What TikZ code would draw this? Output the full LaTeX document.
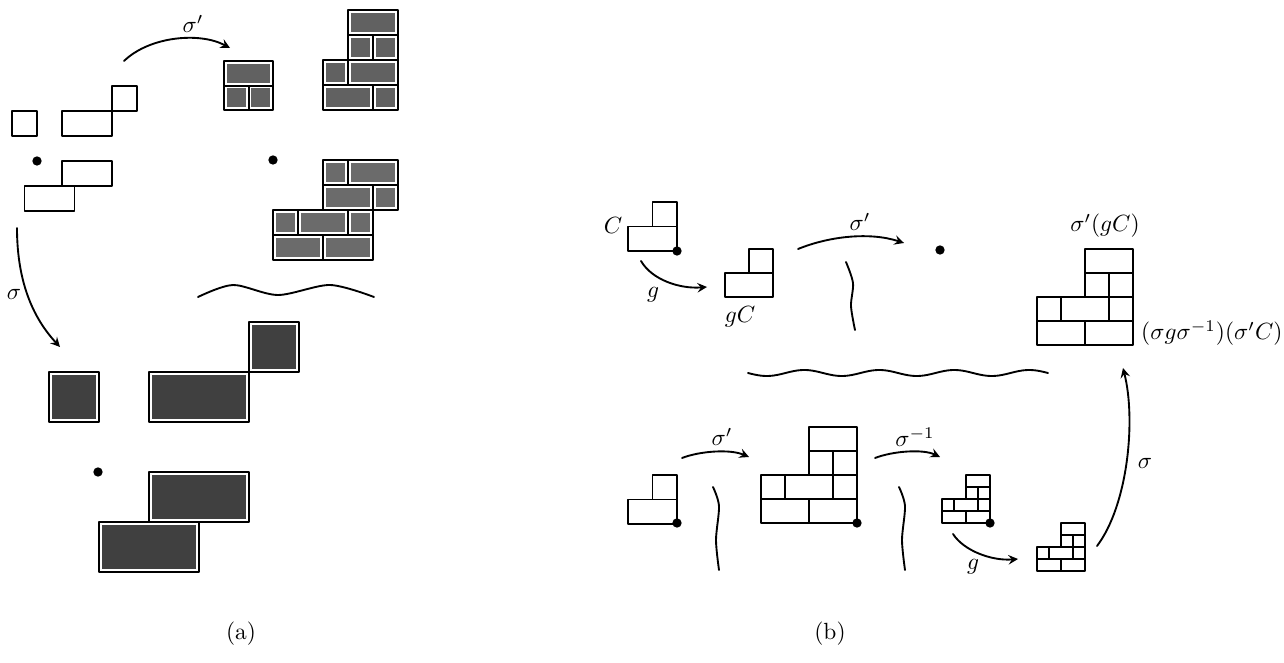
\documentclass[tikz,border=0pt]{standalone}
\usetikzlibrary{arrows}

% cells: fill, white gap, black outline
\newcommand{\tiles}[2]{%
  \foreach \a/\b/\c/\d in #2 \fill[#1] (\a,\b) rectangle (\c,\d);
  \foreach \a/\b/\c/\d in #2 \draw[white, line width=2.4pt] (\a,\b) rectangle (\c,\d);
  \foreach \a/\b/\c/\d in #2 \draw[line width=0.8pt] (\a,\b) rectangle (\c,\d);
}
\def\Ctiles{1/0/2/1, 0/1/2/2}
\def\Ttiles{2/0/4/1, 2/1/3/2, 3/1/4/2, 0/2/1/3, 1/2/3/3, 3/2/4/3, 0/3/2/4, 2/3/4/4}

\begin{document}
\begin{tikzpicture}[x=0.015cm, y=-0.015cm, line join=round, line cap=round, >=stealth,
    dot/.style={circle, fill, inner sep=0pt, minimum size=1.4mm},
    map/.style={->, line width=0.8pt},
    wave/.style={line width=0.8pt}]
  \useasboundingbox (0,0) rectangle (1284,663);

  % ---------- (a)
  \begin{scope}[shift={(12,86)}, scale=25]
    \tiles{white}{{0/1/1/2, 2/1/4/2, 4/0/5/1, 2/3/4/4, 0.5/4/2.5/5}}
  \end{scope}
  \node[dot] (adot1) at (37,161) {};

  \begin{scope}[shift={(224,61)}, scale=24.6]
    \tiles{black!62}{{0/0/2/1, 0/1/1/2, 1/1/2/2}}
  \end{scope}
  \begin{scope}[shift={(323,10)}, scale=25]
    \tiles{black!62}{{1/0/3/1, 1/1/2/2, 2/1/3/2, 0/2/1/3, 1/2/3/3, 0/3/2/4, 2/3/3/4}}
  \end{scope}
  \begin{scope}[shift={(273,160)}, scale=25]
    \tiles{black!58}{{2/0/3/1, 3/0/5/1, 2/1/4/2, 4/1/5/2, 0/2/1/3, 1/2/3/3, 3/2/4/3, 0/3/2/4, 2/3/4/4}}
  \end{scope}
  \node[dot] (adot2) at (273,160) {};

  \draw[wave] plot[smooth] coordinates {(198,297) (233,285) (278,295) (330,285) (374,297)};

  \begin{scope}[shift={(49,322)}, scale=50]
    \tiles{black!75}{{0/1/1/2, 2/1/4/2, 4/0/5/1, 2/3/4/4, 1/4/3/5}}
  \end{scope}
  \node[dot] (adot3) at (98,472) {};

  \coordinate (sa1) at (124,61);
  \coordinate (sa2) at (230,48);
  \draw[map] (sa1) .. controls (150,36) and (200,32) .. (sa2);
  \node (lsa) at (193,24) {$\sigma'$};

  \coordinate (sb1) at (17,228);
  \coordinate (sb2) at (60,347);
  \draw[map] (sb1) .. controls (17,285) and (35,320) .. (sb2);
  \node (lsb) at (14,294) {$\sigma$};

  \node (capa) at (241,634) {(a)};

  % ---------- (b)
  \begin{scope}[shift={(628,202)}, scale=24.5]
    \tiles{white}{\Ctiles}
  \end{scope}
  \node[dot] (bdot1) at (677,251) {};
  \node (lC) at (613,225) {$C$};

  \begin{scope}[shift={(725,249)}, scale=24.2]
    \tiles{white}{\Ctiles}
  \end{scope}
  \node (lgC) at (740,317) {$gC$};

  \coordinate (g1a) at (641,261);
  \coordinate (g1b) at (707,287);
  \draw[map] (g1a) .. controls (652,280) and (680,289) .. (g1b);
  \node (lg1) at (653,295) {$g$};

  \coordinate (s1a) at (798,249);
  \coordinate (s1b) at (904,243);
  \draw[map] (s1a) .. controls (830,236) and (870,232) .. (s1b);
  \node (ls1) at (860,222) {$\sigma'$};
  \node[dot] (bdot2) at (940,250) {};

  \draw[wave] plot[smooth] coordinates {(846,262) (853,283) (851,306) (855,330)};

  \begin{scope}[shift={(1037,249)}, scale=24]
    \tiles{white}{\Ttiles}
  \end{scope}
  \node (lsgC) at (1105,226) {$\sigma'(gC)$};
  \node[anchor=east, inner sep=0pt] (lconj) at (1283,333) {$(\sigma g\sigma^{-1})(\sigma'C)$};

  \draw[wave] plot[domain=748:1048, samples=120] (\x, {373+3*sin(4.8*(\x-748))});

  % bottom row
  \begin{scope}[shift={(628,475)}, scale=24.5]
    \tiles{white}{\Ctiles}
  \end{scope}
  \node[dot] (bdot3) at (677,523) {};

  \coordinate (s2a) at (682,458);
  \coordinate (s2b) at (749,457);
  \draw[map] (s2a) .. controls (700,451) and (730,449) .. (s2b);
  \node (ls2) at (722,437) {$\sigma'$};
  \draw[wave] plot[smooth] coordinates {(713,487) (719,506) (716,540) (719,570)};

  \begin{scope}[shift={(761,427)}, scale=24]
    \tiles{white}{\Ttiles}
  \end{scope}
  \node[dot] (bdot4) at (857,523) {};

  \coordinate (s3a) at (875,458);
  \coordinate (s3b) at (940,457);
  \draw[map] (s3a) .. controls (893,451) and (923,449) .. (s3b);
  \node (ls3) at (915,437) {$\sigma^{-1}$};
  \draw[wave] plot[smooth] coordinates {(899,487) (905,506) (902,540) (905,570)};

  \begin{scope}[shift={(942,475)}, scale=12]
    \tiles{white}{\Ttiles}
  \end{scope}
  \node[dot] (bdot5) at (990,523) {};

  \coordinate (g2a) at (953,534);
  \coordinate (g2b) at (1018,559);
  \draw[map] (g2a) .. controls (964,551) and (992,561) .. (g2b);
  \node (lg2) at (973,567) {$g$};

  \begin{scope}[shift={(1037,523)}, scale=12]
    \tiles{white}{\Ttiles}
  \end{scope}

  \coordinate (s4a) at (1097,546);
  \coordinate (s4b) at (1123,368);
  \draw[map] (s4a) .. controls (1128,505) and (1136,420) .. (s4b);
  \node (ls4) at (1145,463) {$\sigma$};

  \node (capb) at (830,634) {(b)};
\end{tikzpicture}
\end{document}
